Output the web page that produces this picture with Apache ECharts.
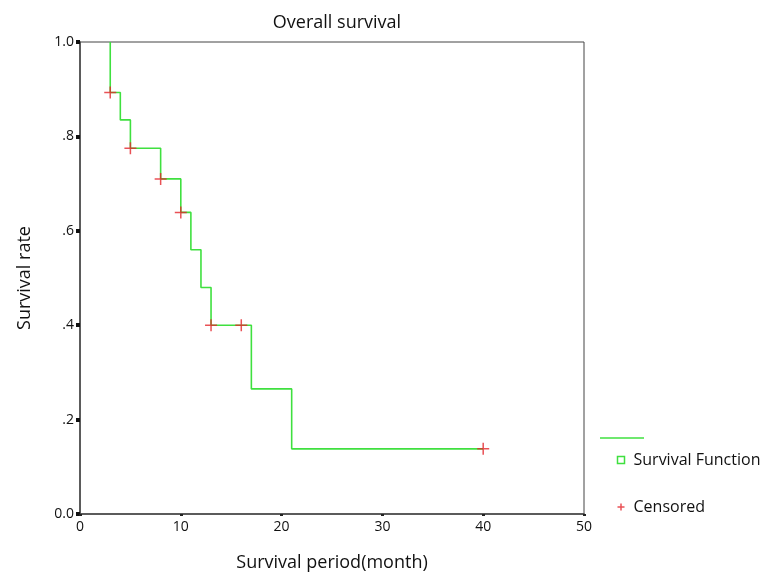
<!DOCTYPE html>
<html><head><meta charset="utf-8">
<script src="https://cdn.jsdelivr.net/npm/echarts@6/dist/echarts.min.js"></script>
<style>html,body{margin:0;padding:0;background:#fff}#c{width:771px;height:577px}</style>
</head><body><div id="c"></div>
<script>
var stepTimes = [3, 3, 4, 5, 8, 10, 11, 12, 13, 17, 21, 40];
var stepSurvival = [1.0, 0.893, 0.835, 0.775, 0.71, 0.639, 0.56, 0.48, 0.40, 0.265, 0.138, 0.138];
var censorTimes = [3, 5, 8, 10, 13, 16, 40];
var censorSurvival = [0.893, 0.775, 0.71, 0.639, 0.40, 0.40, 0.138];
var yTicks = ['0.0', '.2', '.4', '.6', '.8', '1.0'];
var xTicks = ['0', '10', '20', '30', '40', '50'];

var FONT = '"Open Sans", "Noto Sans", sans-serif';
var GREEN = '#3fe03f', RED = '#e3262c';
var plus = 'path://M0,5L10,5M5,0L5,10';

var chart = echarts.init(document.getElementById('c'));
chart.setOption({
  backgroundColor: '#fff',
  animation: false,
  title: {text: 'Overall survival', left: 332, top: 9, textAlign: 'center',
    textStyle: {fontFamily: FONT, fontWeight: 'normal', fontSize: 18, color: '#111'}},
  grid: {left: 80, top: 42, right: 187, bottom: 63, show: true, borderColor: '#444', borderWidth: 1},
  legend: {orient: 'vertical', left: 610, top: 447, itemGap: 31, itemWidth: 7, itemHeight: 7,
    textStyle: {fontFamily: FONT, fontSize: 16, color: '#111', padding: [0, 0, 0, 4]},
    data: [
      {name: 'Survival Function', icon: 'rect', itemStyle: {color: '#fff', borderColor: GREEN, borderWidth: 1.5}},
      {name: 'Censored', icon: plus, itemStyle: {color: 'none', borderColor: RED, borderWidth: 1.5}}
    ]},
  xAxis: {type: 'value', min: 0, max: 50, interval: 10,
    name: 'Survival period(month)', nameLocation: 'middle', nameGap: 40,
    nameTextStyle: {fontFamily: FONT, fontSize: 18, color: '#111'},
    axisLine: {lineStyle: {color: '#444', width: 1.5}},
    axisTick: {show: true, length: 2, lineStyle: {color: '#222', width: 3}},
    splitLine: {show: false},
    axisLabel: {fontFamily: FONT, fontSize: 14, color: '#111', margin: 6,
      formatter: function (v) { return xTicks[Math.round(v / 10)]; }}},
  yAxis: {type: 'value', min: 0, max: 1, interval: 0.2,
    name: 'Survival rate', nameLocation: 'middle', nameGap: 46, nameRotate: 90,
    nameTextStyle: {fontFamily: FONT, fontSize: 18, color: '#111'},
    axisLine: {lineStyle: {color: '#444', width: 1.5}},
    axisTick: {show: true, length: 4, lineStyle: {color: '#111', width: 4}},
    splitLine: {show: false},
    axisLabel: {fontFamily: FONT, fontSize: 14, color: '#111', margin: 6,
      formatter: function (v) { return yTicks[Math.round(v * 5)]; }}},
  graphic: [{type: 'line', shape: {x1: 600, y1: 438, x2: 644, y2: 438}, style: {stroke: GREEN, lineWidth: 1.5}}],
  series: [
    {name: 'Survival Function', type: 'line', step: 'end', showSymbol: false, symbol: 'none',
      lineStyle: {color: GREEN, width: 1.6}, itemStyle: {color: GREEN},
      data: stepTimes.map(function (t, i) { return [t, stepSurvival[i]]; }), z: 2},
    {name: 'Censored', type: 'scatter', symbol: plus, symbolSize: 12,
      itemStyle: {color: 'none', borderColor: RED, borderWidth: 1.5},
      data: censorTimes.map(function (t, i) { return [t, censorSurvival[i]]; }), z: 3}
  ]
});
</script></body></html>
